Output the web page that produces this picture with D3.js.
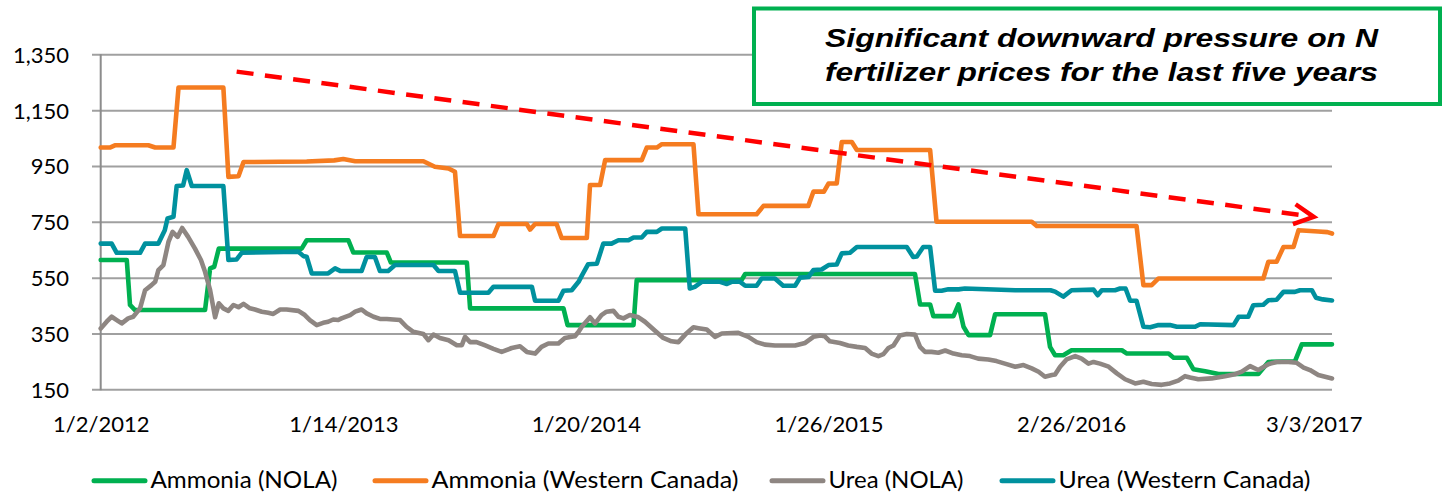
<!DOCTYPE html>
<html>
<head>
<meta charset="utf-8">
<script src="https://cdn.jsdelivr.net/npm/d3@7"></script>
<style>
  html, body { margin: 0; padding: 0; background: #fff; }
  svg { display: block; }
</style>
</head>
<body>
<svg id="chart" width="1445" height="497"></svg>
<script>
// ---------- DATA (week index from 1/2/2012, value) ----------
const seriesNames = ["Ammonia (NOLA)", "Ammonia (Western Canada)", "Urea (NOLA)", "Urea (Western Canada)"];
const xTickIndex = [0, 53, 106, 159, 212, 265];
const xTickLabels = ["1/2/2012", "1/14/2013", "1/20/2014", "1/26/2015", "2/26/2016", "3/3/2017"];
const yTicks = [150, 350, 550, 750, 950, 1150, 1350];
const lastIndex = 269;

const ammoniaNOLA = [[0,613],[5.7,613],[6.4,452],[7.5,434],[22.8,434],[23.9,583],[24.8,589],[25.8,654],[43.9,654],[45.0,684],[54.1,684],[55.2,640],[62.5,640],[63.4,604],[80.0,604],[80.7,440],[101.1,440],[102.0,380],[116.4,380],[117.1,541],[140.0,541],[140.8,563],[177.9,563],[179.0,454],[181.2,454],[181.9,412],[186.3,412],[187.4,454],[188.5,374],[189.6,344],[194.3,344],[195.4,419],[206.3,419],[207.4,302],[208.5,272],[210.3,272],[212.1,290],[223.1,290],[224.2,278],[233.3,278],[234.4,263],[237.3,263],[238.7,222],[241.3,215],[244.2,205],[252.9,205],[255.1,248],[260.9,250],[262.4,311],[269,311]];

const ammoniaWC = [[0,1016],[2.0,1016],[3.1,1024],[10.4,1024],[11.9,1016],[15.9,1016],[17.0,1231],[26.8,1231],[27.9,911],[30.1,913],[31.2,964],[45,966],[51,970],[53,975],[55.6,967],[70.5,967],[73.0,947],[76.0,941],[77.4,929],[78.5,699],[85.8,699],[86.9,742],[93.1,742],[93.8,722],[94.9,742],[99.6,742],[100.7,692],[106.2,692],[106.9,882],[109.1,882],[110.2,971],[118.2,971],[119.3,1016],[121.5,1016],[122.6,1028],[129.5,1028],[130.6,777],[143.3,777],[144.8,807],[154.6,807],[155.7,858],[158.0,858],[159.0,887],[160.8,887],[161.9,1036],[164.1,1036],[165.2,1007],[181.2,1007],[182.6,750],[203.4,750],[204.5,735],[226.3,735],[227.8,523],[229.6,523],[231.1,547],[254.0,547],[255.1,607],[256.9,607],[258.4,660],[260.6,660],[261.7,720],[266,715],[268,713],[269,708]];

const ureaNOLA = [[0,368],[1.3,392],[2.4,410],[3.5,398],[4.6,386],[6.0,404],[7.1,410],[8.6,440],[9.7,505],[11.1,523],[11.9,535],[12.6,577],[13.7,595],[14.8,678],[15.7,714],[16.8,696],[17.8,728],[19.1,696],[20.6,654],[21.9,613],[22.8,571],[23.9,505],[25.0,408],[25.8,458],[26.8,440],[27.9,431],[29.0,452],[30.1,444],[31.2,456],[32.6,440],[33.7,436],[35.2,428],[36.6,424],[37.7,420],[39.2,436],[40.6,436],[43.2,431],[44.6,416],[45.7,398],[47.2,380],[48.6,388],[49.7,392],[50.8,400],[51.9,398],[52.6,404],[54.5,416],[55.6,428],[57.0,436],[58.1,422],[59.6,410],[61.0,402],[62.5,402],[63.9,400],[65.4,398],[66.8,374],[68.3,356],[70.5,348],[71.6,326],[72.7,346],[74.1,334],[76.0,326],[77.8,308],[78.9,308],[79.6,338],[80.7,319],[82.1,319],[84.0,307],[85.8,295],[87.6,284],[89.8,298],[91.6,304],[93.1,284],[94.9,278],[96.3,302],[97.8,314],[100.0,314],[101.4,334],[102.9,338],[103.6,340],[104.4,356],[105.1,374],[106.9,408],[108.0,386],[109.4,416],[110.5,428],[112.0,431],[113.1,410],[114.2,404],[115.6,416],[117.5,408],[118.9,392],[121.1,360],[122.9,334],[124.7,322],[126.2,319],[127.7,346],[129.5,372],[130.6,369],[132.4,364],[134.2,338],[135.7,350],[139.3,352],[141.5,338],[143.3,319],[145.1,310],[147.3,307],[151.7,307],[153.9,316],[155.7,338],[157.2,343],[158.2,340],[159.3,322],[161.5,316],[163.3,307],[165.2,302],[167.0,298],[168.4,278],[169.9,269],[171.0,276],[172.1,298],[173.2,307],[174.6,343],[176.1,348],[177.9,346],[179.0,302],[180.1,284],[181.5,284],[183.0,281],[184.5,289],[186.3,278],[188.1,272],[189.9,269],[191.7,260],[193.9,257],[195.7,251],[197.9,240],[199.8,231],[201.6,237],[203.4,225],[204.9,213],[206.3,195],[207.8,201],[208.5,203],[209.6,231],[211.0,257],[212.9,269],[214.3,260],[215.8,242],[216.9,248],[218.3,242],[220.2,231],[222.0,207],[223.8,186],[226.0,171],[227.8,177],[229.6,169],[231.8,166],[233.6,171],[235.4,181],[236.9,197],[238.0,192],[239.8,186],[242.7,189],[245.6,197],[247.8,204],[249.3,213],[251.1,233],[252.9,219],[255.1,240],[256.9,248],[259.5,248],[261.3,245],[262.8,228],[264.2,219],[266.0,201],[269,189]];

const ureaWC = [[0,672],[2.4,672],[3.5,639],[8.6,639],[9.7,672],[12.6,672],[14.0,720],[14.6,762],[15.9,768],[16.6,878],[18.0,880],[18.8,935],[19.9,878],[26.8,878],[27.9,613],[29.7,615],[30.8,639],[43.2,643],[44.3,627],[45.0,625],[46.1,565],[49.7,565],[51.2,583],[52.3,574],[57.0,574],[58.1,624],[59.9,624],[61.0,574],[62.8,574],[64.3,595],[72.7,595],[73.8,574],[77.4,574],[78.5,496],[84.7,496],[85.8,517],[94.2,517],[94.9,467],[100.0,467],[101.1,503],[102.9,505],[104.4,535],[105.2,560],[106.5,598],[108.4,600],[109.8,672],[111.6,672],[113.1,684],[115.3,684],[116.4,694],[118.2,694],[119.3,714],[121.5,714],[122.6,726],[127.7,726],[128.7,511],[129.8,517],[131.3,535],[135.3,535],[136.8,527],[137.8,535],[139.7,535],[140.8,521],[143.3,521],[144.4,547],[147.3,547],[149.1,521],[151.7,521],[152.8,550],[154.6,552],[155.7,577],[157.5,579],[159.0,595],[160.8,597],[161.9,637],[163.7,639],[165.2,660],[176.1,660],[177.5,624],[178.3,626],[179.7,660],[181.2,660],[182.3,503],[183.7,503],[185.2,508],[187.4,508],[188.8,511],[199.8,505],[207.5,505],[208.5,500],[210.3,482],[212.1,505],[216.9,507],[217.8,487],[218.7,505],[221.6,505],[222.7,511],[223.9,511],[224.9,467],[226.3,467],[227.8,374],[229.3,372],[231.1,380],[233.6,380],[235.1,374],[239.1,374],[240.2,383],[247.5,380],[248.6,410],[250.7,410],[251.8,451],[254.0,453],[255.1,469],[256.9,471],[258.4,499],[260.9,499],[262.0,505],[264.6,505],[265.5,478],[267,472],[269,468]];

const seriesData = [ammoniaNOLA, ammoniaWC, ureaNOLA, ureaWC];
const seriesColors = ["#00B050", "#F57C20", "#8E8682", "#00919E"];

// annotation: trend arrow (week index, value) and text
const trendStart = [29.7, 1288];
const trendEnd = [265, 768];
const noteLines = ["Significant downward pressure on N", "fertilizer prices for the last five years"];

// ---------- LAYOUT ----------
const svg = d3.select("#chart");
const plotLeft = 100.7, plotRight = 1332, plotTop = 54.3, plotBottom = 389.3;

const x = d3.scaleLinear().domain([0, lastIndex]).range([plotLeft, plotRight]);
const y = d3.scaleLinear().domain([150, 1350]).range([plotBottom, plotTop]);

const axisFont = "Lato, 'Open Sans', sans-serif";

// gridlines + y labels via axis
const yAxis = d3.axisLeft(y)
  .tickValues(yTicks)
  .tickFormat(d3.format(","))
  .tickSize(-(plotRight - 92))
  .tickPadding(23);
const gy = svg.append("g").attr("transform", "translate(92,0)").call(yAxis);
gy.select(".domain").remove();
gy.selectAll(".tick line").attr("stroke", "#a0a0a0").attr("stroke-width", 2);
gy.selectAll(".tick text")
  .attr("font-family", axisFont).attr("font-size", 22).attr("fill", "#000")
  .attr("dy", "0.36em");

// vertical axis line
svg.append("line")
  .attr("x1", plotLeft).attr("x2", plotLeft)
  .attr("y1", plotTop).attr("y2", plotBottom + 1)
  .attr("stroke", "#8c8c8c").attr("stroke-width", 2);

// x axis labels
const xAxis = d3.axisBottom(x)
  .tickValues(xTickIndex)
  .tickFormat((d, i) => xTickLabels[i])
  .tickSize(0)
  .tickPadding(27.4);
const gx = svg.append("g").attr("transform", `translate(0,${plotBottom})`).call(xAxis);
gx.select(".domain").remove();
gx.selectAll(".tick text")
  .attr("font-family", axisFont).attr("font-size", 22).attr("fill", "#000");

// series lines
const line = d3.line().x(d => x(d[0])).y(d => y(d[1]));
seriesData.forEach((s, i) => {
  svg.append("path")
    .datum(s)
    .attr("d", line)
    .attr("fill", "none")
    .attr("stroke", seriesColors[i])
    .attr("stroke-width", 4.6)
    .attr("stroke-linejoin", "round")
    .attr("stroke-linecap", "round");
});

// trend arrow
const sx = x(trendStart[0]), sy = y(trendStart[1]);
const ex = x(trendEnd[0]), ey = y(trendEnd[1]);
svg.append("line")
  .attr("x1", sx).attr("y1", sy).attr("x2", ex - 3).attr("y2", ey - 0.4)
  .attr("stroke", "#FF0000").attr("stroke-width", 4.5)
  .attr("stroke-dasharray", "17,11.5");
const ang = Math.atan2(ey - sy, ex - sx);
const armLen = 22, armAng = 27 * Math.PI / 180;
const a1 = [ex - armLen * Math.cos(ang - armAng), ey - armLen * Math.sin(ang - armAng)];
const a2 = [ex - armLen * Math.cos(ang + armAng), ey - armLen * Math.sin(ang + armAng)];
svg.append("path")
  .attr("d", `M${a1[0]},${a1[1]}L${ex},${ey}L${a2[0]},${a2[1]}`)
  .attr("fill", "none").attr("stroke", "#FF0000").attr("stroke-width", 4.5)
  .attr("stroke-linejoin", "miter");

// annotation box
svg.append("rect")
  .attr("x", 754).attr("y", 8.5).attr("width", 686).attr("height", 95.5)
  .attr("fill", "#fff").attr("stroke", "#00B050").attr("stroke-width", 4);
noteLines.forEach((t, i) => {
  svg.append("text")
    .attr("x", 825).attr("y", 47 + i * 34)
    .attr("font-family", "'Liberation Sans', Arial, sans-serif")
    .attr("font-size", 26.5).attr("font-weight", "bold").attr("font-style", "italic")
    .attr("fill", "#000")
    .attr("textLength", 553).attr("lengthAdjust", "spacingAndGlyphs")
    .text(t);
});

// legend
const legendX = [92, 373, 770, 1000];
const legendTextWidth = [187, 307, 135, 252];
const legendY = 480.7;
seriesNames.forEach((name, i) => {
  const g = svg.append("g").attr("transform", `translate(${legendX[i]},${legendY})`);
  g.append("line").attr("x1", 2).attr("x2", 53).attr("y1", 0).attr("y2", 0)
    .attr("stroke", seriesColors[i]).attr("stroke-width", 5).attr("stroke-linecap", "round");
  g.append("text").attr("x", 58.5).attr("y", 6.8)
    .attr("font-family", axisFont).attr("font-size", 22.5).attr("fill", "#000")
    .attr("textLength", legendTextWidth[i]).attr("lengthAdjust", "spacingAndGlyphs")
    .text(name);
});
</script>
</body>
</html>
